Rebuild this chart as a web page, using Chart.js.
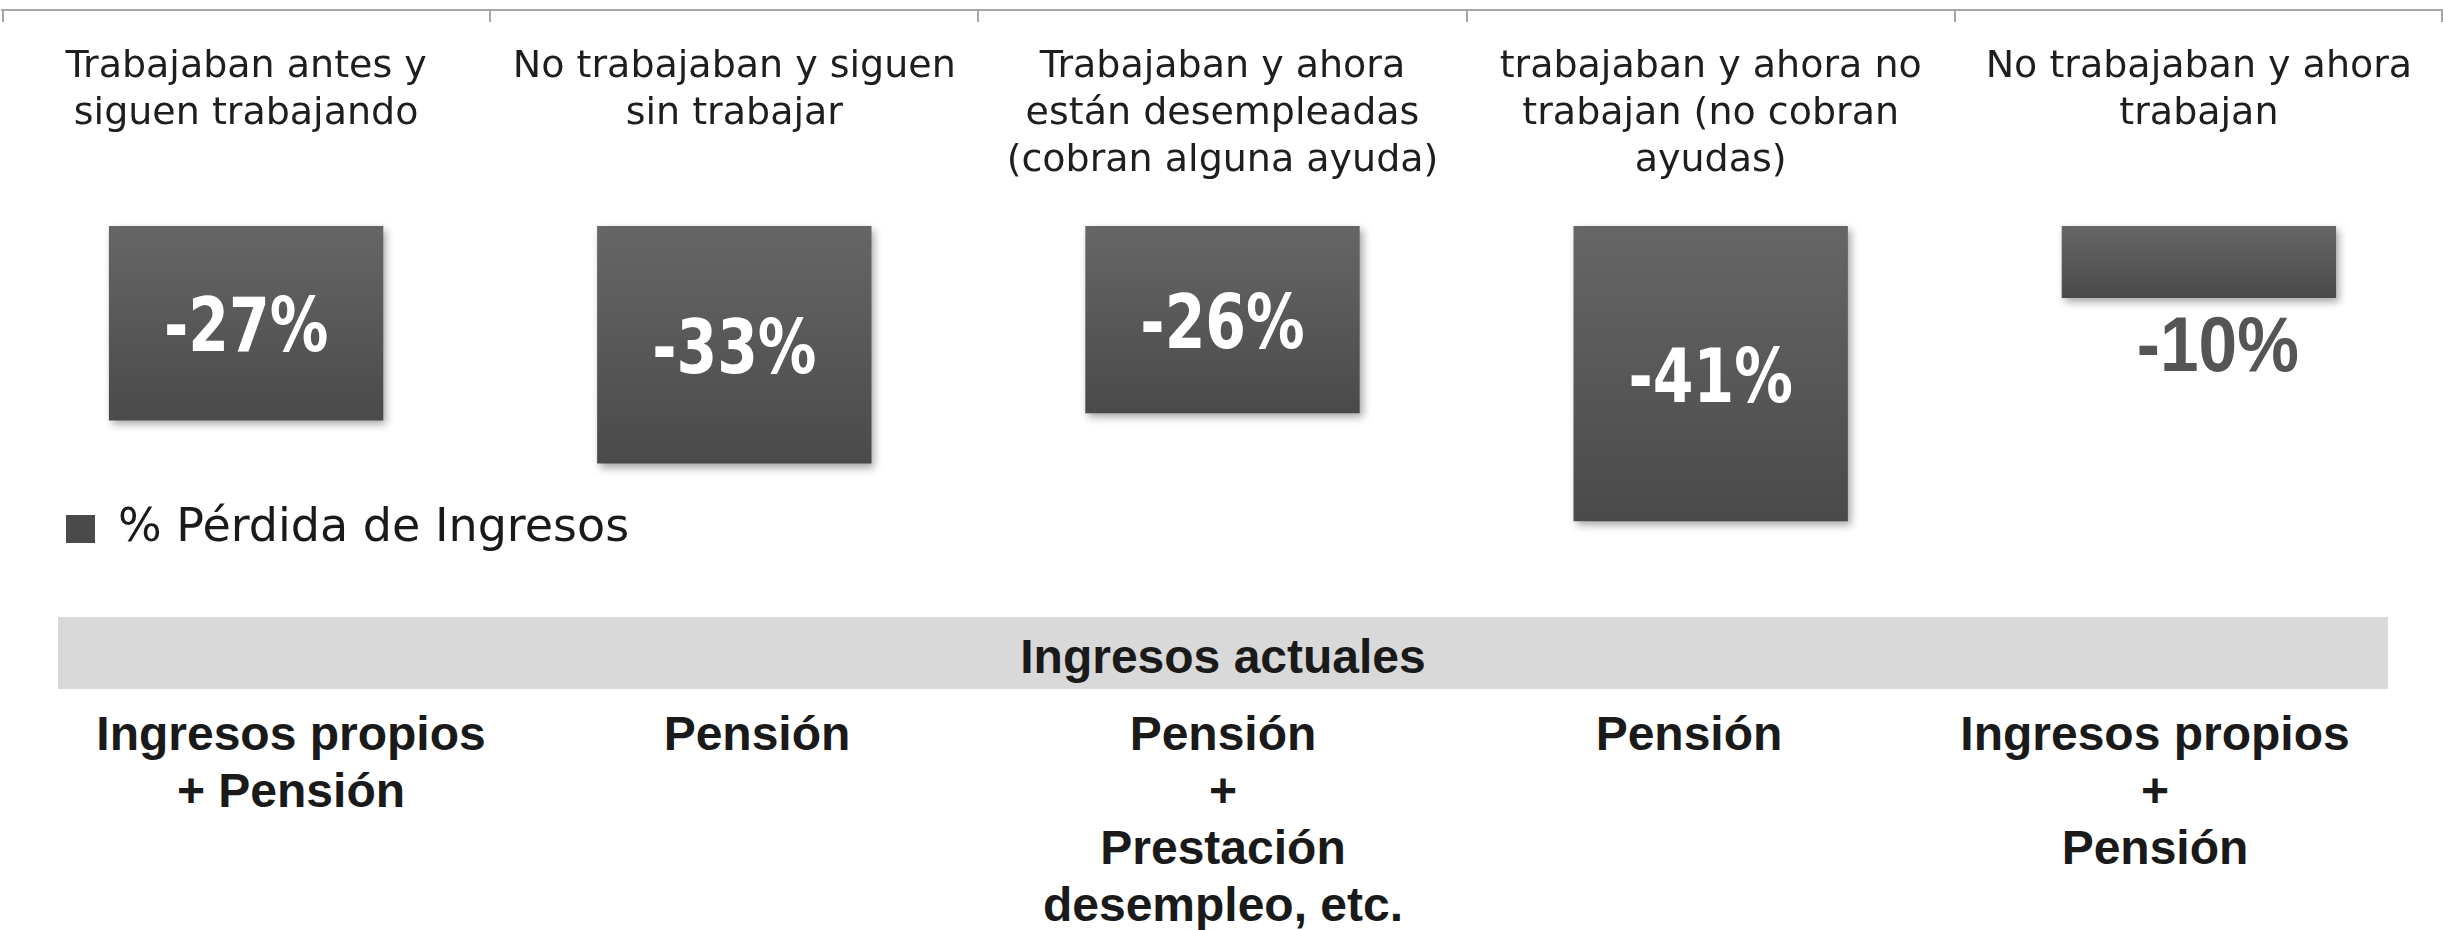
<!DOCTYPE html>
<html>
<head>
<meta charset="utf-8">
<title>Pérdida de ingresos</title>
<script src="https://cdn.jsdelivr.net/npm/chart.js@4.4.1/dist/chart.umd.min.js"></script>
<style>
  html, body { margin: 0; padding: 0; background: #fff; }
  body { width: 2443px; height: 930px; position: relative; overflow: hidden; }
  #chart { position: absolute; left: 0; top: 0; }
  #band {
    position: absolute; left: 58px; top: 617px; width: 2330px; height: 72px;
    background: #d9d9d9; box-sizing: border-box; padding-top: 6px;
    display: flex; align-items: center; justify-content: center;
    font: bold 48px "Liberation Sans", Arial, sans-serif; color: #1a1a1a;
  }
  #rows { position: absolute; left: 58px; top: 705px; width: 2330px; display: flex; }
  .col {
    width: 466px; text-align: center; white-space: nowrap;
    font: bold 48px "Liberation Sans", Arial, sans-serif; line-height: 57px; color: #1a1a1a;
  }
</style>
</head>
<body>
<canvas id="chart" width="2443" height="562"></canvas>
<div id="band"></div>
<div id="rows"></div>
<script>
'use strict';

// ---------------------------------------------
// Data
// ---------------------------------------------
var categories = [
    ['Trabajaban antes y', 'siguen trabajando'],
    ['No trabajaban y siguen', 'sin trabajar'],
    ['Trabajaban y ahora', 'están desempleadas', '(cobran alguna ayuda)'],
    ['trabajaban y ahora no', 'trabajan (no cobran', 'ayudas)'],
    ['No trabajaban y ahora', 'trabajan']
];
var lossValues = [-27, -33, -26, -41, -10];
var seriesName = '% Pérdida de Ingresos';

var incomeHeader = 'Ingresos actuales';
var incomeRows = [
    ['Ingresos propios', '+ Pensión'],
    ['Pensión'],
    ['Pensión', '+', 'Prestación', 'desempleo, etc.'],
    ['Pensión'],
    ['Ingresos propios', '+', 'Pensión']
];

// ---------------------------------------------
// Table under the chart
// ---------------------------------------------
document.getElementById('band').textContent = incomeHeader;
var rows = document.getElementById('rows');
incomeRows.forEach(function (lines) {
    var col = document.createElement('div');
    col.className = 'col';
    lines.forEach(function (t) {
        var d = document.createElement('div');
        d.textContent = t;
        col.appendChild(d);
    });
    rows.appendChild(col);
});

// ---------------------------------------------
// Plugins
// ---------------------------------------------
var barShadow = {
    id: 'barShadow',
    beforeDatasetsDraw: function (chart) {
        var c = chart.ctx;
        c.save();
        c.shadowColor = 'rgba(0,0,0,0.35)';
        c.shadowBlur = 8;
        c.shadowOffsetX = 3;
        c.shadowOffsetY = 4;
    },
    afterDatasetsDraw: function (chart) {
        chart.ctx.restore();
    }
};

var barLabels = {
    id: 'barLabels',
    afterDatasetsDraw: function (chart) {
        var ctx = chart.ctx;
        var values = chart.data.datasets[0].data;
        chart.getDatasetMeta(0).data.forEach(function (bar, i) {
            var text = values[i] + '%';
            var h = Math.abs(bar.y - bar.base);
            ctx.save();
            ctx.textAlign = 'center';
            ctx.textBaseline = 'alphabetic';
            if (h > 120) {
                // fits inside the bar
                ctx.font = 'bold 75px "DejaVu Sans", sans-serif';
                ctx.fillStyle = '#ffffff';
                ctx.translate(bar.x, (bar.y + bar.base) / 2 + 28);
                ctx.scale(0.78, 1);
            } else {
                // short bar: label goes under it
                ctx.font = 'bold 78px "Liberation Sans", Arial, sans-serif';
                ctx.fillStyle = '#555555';
                ctx.translate(bar.x + 19, bar.y + 73);
                ctx.scale(0.89, 1);
            }
            ctx.fillText(text, 0, 0);
            ctx.restore();
        });
    }
};

var topAxisLabels = {
    id: 'topAxisLabels',
    afterDraw: function (chart) {
        var ctx = chart.ctx, x = chart.scales.x, area = chart.chartArea;
        var labels = chart.data.labels;
        var step = x.width / labels.length;
        ctx.save();
        // tick marks hanging below the top axis line
        ctx.strokeStyle = '#a6a6a6';
        ctx.lineWidth = 2;
        for (var i = 0; i <= labels.length; i++) {
            var px = Math.round(x.left + i * step);
            if (i === labels.length) px -= 1;
            if (i === 0) px += 1;
            ctx.beginPath();
            ctx.moveTo(px, area.top);
            ctx.lineTo(px, area.top + 12);
            ctx.stroke();
        }
        // category names, under the line
        ctx.font = '38px "DejaVu Sans", sans-serif';
        ctx.fillStyle = '#1e1e1e';
        ctx.textAlign = 'center';
        ctx.textBaseline = 'alphabetic';
        labels.forEach(function (lines, i) {
            var cx = x.getPixelForValue(i);
            lines.forEach(function (t, j) {
                ctx.fillText(t, cx, area.top + 67 + j * 47);
            });
        });
        ctx.restore();
    }
};

// ---------------------------------------------
// Chart
// ---------------------------------------------
function barFill(c) {
    var chart = c.chart, y = chart.scales.y;
    if (c.type !== 'data' || !chart.chartArea || !y) return '#565656';
    var top = y.getPixelForValue(0), bottom = y.getPixelForValue(c.raw);
    if (!isFinite(top) || !isFinite(bottom) || top === bottom) return '#565656';
    var g = chart.ctx.createLinearGradient(0, top, 0, bottom);
    g.addColorStop(0, '#666666');
    g.addColorStop(1, '#4a4a4a');
    return g;
}

var lossChart = new Chart(document.getElementById('chart'), {
    type: 'bar',
    data: {
        labels: categories,
        datasets: [{
            label: seriesName,
            data: lossValues,
            backgroundColor: barFill,
            borderWidth: 0,
            barPercentage: 0.562,
            categoryPercentage: 1.0,
            clip: false
        }]
    },
    options: {
        responsive: false,
        animation: false,
        devicePixelRatio: 1,
        layout: { padding: { left: 2, right: 0, top: 10, bottom: 0 } },
        scales: {
            x: {
                position: 'top',
                ticks: { display: false },
                grid: { display: false, drawTicks: false },
                border: { display: true, color: '#a6a6a6', width: 2 }
            },
            y: {
                min: -30,
                max: 30,
                display: false
            }
        },
        plugins: {
            legend: {
                position: 'bottom',
                align: 'start',
                labels: {
                    boxWidth: 29,
                    boxHeight: 28,
                    padding: 64,
                    color: '#1a1a1a',
                    font: { family: '"DejaVu Sans", sans-serif', size: 46 }
                }
            },
            tooltip: { enabled: false }
        }
    },
    plugins: [barShadow, barLabels, topAxisLabels]
});
</script>
</body>
</html>
